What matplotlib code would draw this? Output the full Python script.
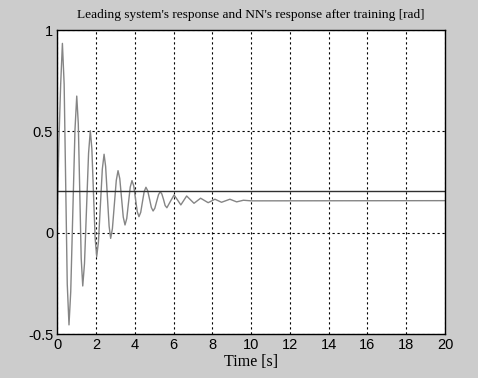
import numpy as np
import matplotlib
import matplotlib.pyplot as plt

matplotlib.rcParams['font.family'] = 'Liberation Sans'

# NN response (peaks, troughs and points on the flanks)
t_nn = [0.0, 0.08, 0.17, 0.26, 0.35, 0.43, 0.51, 0.60, 0.69, 0.80, 0.91, 1.00,
        1.08, 1.155, 1.23, 1.31, 1.40, 1.505, 1.61, 1.70, 1.78, 1.865, 1.95,
        2.03, 2.12, 2.22, 2.32, 2.41, 2.49, 2.58, 2.67, 2.75, 2.84, 2.94, 3.04,
        3.13, 3.22, 3.31, 3.40, 3.49, 3.58, 3.67, 3.76, 3.85, 3.94, 4.03, 4.12,
        4.21, 4.30, 4.39, 4.48, 4.57, 4.66, 4.755, 4.85, 4.94, 5.03, 5.125,
        5.22, 5.31, 5.39, 5.48, 5.56, 5.65, 5.835, 6.02, 6.195, 6.37, 6.52,
        6.67, 7.05, 7.39, 7.78, 8.13, 8.47, 8.9, 9.25, 9.6, 10.0, 20.0]
y_nn = [0.079, 0.45, 0.73, 0.934, 0.733, 0.24, -0.253, -0.455, -0.291, 0.11, 0.51, 0.674,
        0.538, 0.205, -0.127, -0.263, -0.152, 0.12, 0.392, 0.503, 0.414, 0.19, -0.029,
        -0.118, -0.045, 0.135, 0.314, 0.387, 0.327, 0.18, 0.032, -0.028, 0.02, 0.139, 0.258,
        0.306, 0.267, 0.172, 0.077, 0.038, 0.07, 0.148, 0.225, 0.257, 0.231, 0.168, 0.105,
        0.079, 0.1, 0.152, 0.203, 0.224, 0.207, 0.166, 0.124, 0.107, 0.121, 0.155,
        0.188, 0.202, 0.191, 0.163, 0.134, 0.123, 0.155, 0.186, 0.162, 0.137, 0.159,
        0.181, 0.145, 0.17, 0.148, 0.165, 0.15, 0.165, 0.152, 0.16, 0.157, 0.158]

# leading system response (constant level)
t_lead = [0, 20]
y_lead = [0.205, 0.205]

xticks = list(range(0, 21, 2))
yticks = [-0.5, 0, 0.5, 1]
ytick_labels = ['-0.5', '0', '0.5', '1']

fig = plt.figure(figsize=(4.78, 3.78), dpi=100, facecolor='#cccccc')
ax = fig.add_axes([0.12, 0.1164, 0.811, 0.8042])
ax.set_facecolor('white')

ax.plot(t_nn, y_nn, color='#858585', lw=1.0)
ax.plot(t_lead, y_lead, color='#303030', lw=1.0)

ax.set_xlim(0, 20)
ax.set_ylim(-0.5, 1)
ax.set_xticks(xticks)
ax.set_yticks(yticks)
ax.set_yticklabels(ytick_labels)
ax.tick_params(direction='in', length=0, labelsize=10.5, pad=3)
ax.grid(True, color='black', linestyle=(0, (2, 2.5)), lw=0.8)
for s in ax.spines.values():
    s.set_color('black')
    s.set_linewidth(1.0)

ax.set_title("Leading system's response and NN's response after training [rad]",
             fontfamily='Liberation Serif', fontsize=9.6, pad=9)
ax.set_xlabel('Time [s]', fontfamily='Liberation Serif', fontsize=11.5, labelpad=1)

fig.savefig('out.png', dpi=100, facecolor=fig.get_facecolor())
